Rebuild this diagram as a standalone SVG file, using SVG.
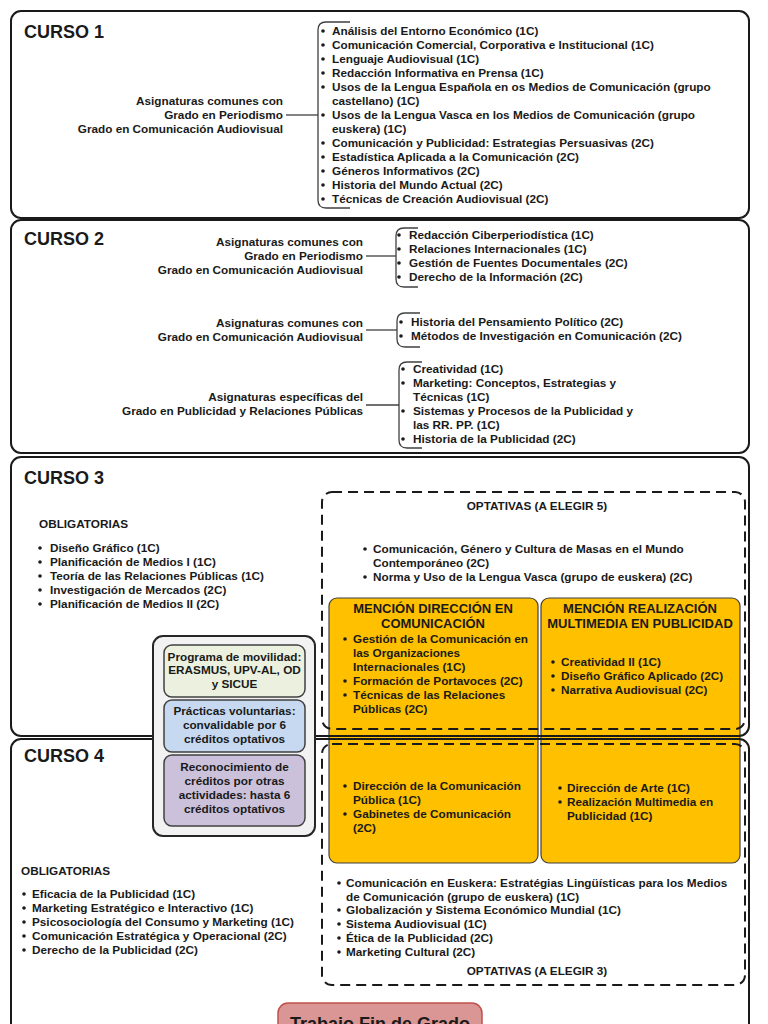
<svg xmlns="http://www.w3.org/2000/svg" width="768" height="1024" viewBox="0 0 768 1024">
<style>
.t{font-family:"Liberation Sans",Arial,sans-serif;font-weight:bold;font-size:11.75px;fill:#1a1a1a}
.h{font-size:18px}
.m{font-size:13px}
.e{text-anchor:end}
.c{text-anchor:middle}
.box{fill:none;stroke:#1a1a1a;stroke-width:2}
.dash{fill:none;stroke:#1a1a1a;stroke-width:2;stroke-dasharray:10 6}
.br{fill:none;stroke:#404040;stroke-width:1.3}
.men{fill:#FFC000;stroke:#404040;stroke-width:1.2}
.b{fill:#1a1a1a}
</style>
<rect width="768" height="1024" fill="#fff"/>

<g id="menciones">
<rect class="men" x="329" y="598" width="209" height="265" rx="8"/>
<rect class="men" x="541" y="598" width="199" height="265" rx="8"/>
</g>

<g id="curso1">
<rect class="box" x="11" y="11" width="738" height="207" rx="10"/>
<text class="t h" x="24" y="38">CURSO 1</text>
<text class="t e" x="283" y="105">Asignaturas comunes con</text>
<text class="t e" x="283" y="119">Grado en Periodismo</text>
<text class="t e" x="283" y="133">Grado en Comunicación Audiovisual</text>
<g id="c1list">
<circle class="b" cx="323" cy="31" r="1.8"/><text class="t" x="332" y="35">Análisis del Entorno Económico (1C)</text>
<circle class="b" cx="323" cy="45" r="1.8"/><text class="t" x="332" y="49">Comunicación Comercial, Corporativa e Institucional (1C)</text>
<circle class="b" cx="323" cy="59" r="1.8"/><text class="t" x="332" y="63">Lenguaje Audiovisual (1C)</text>
<circle class="b" cx="323" cy="73" r="1.8"/><text class="t" x="332" y="77">Redacción Informativa en Prensa (1C)</text>
<circle class="b" cx="323" cy="87" r="1.8"/><text class="t" x="332" y="91">Usos de la Lengua Española en os Medios de Comunicación (grupo</text>
<text class="t" x="332" y="105">castellano) (1C)</text>
<circle class="b" cx="323" cy="115" r="1.8"/><text class="t" x="332" y="119">Usos de la Lengua Vasca en los Medios de Comunicación (grupo</text>
<text class="t" x="332" y="133">euskera) (1C)</text>
<circle class="b" cx="323" cy="143" r="1.8"/><text class="t" x="332" y="147">Comunicación y Publicidad: Estrategias Persuasivas (2C)</text>
<circle class="b" cx="323" cy="157" r="1.8"/><text class="t" x="332" y="161">Estadística Aplicada a la Comunicación (2C)</text>
<circle class="b" cx="323" cy="171" r="1.8"/><text class="t" x="332" y="175">Géneros Informativos (2C)</text>
<circle class="b" cx="323" cy="185" r="1.8"/><text class="t" x="332" y="189">Historia del Mundo Actual (2C)</text>
<circle class="b" cx="323" cy="199" r="1.8"/><text class="t" x="332" y="203">Técnicas de Creación Audiovisual (2C)</text>
</g>
</g>

<g id="curso2">
<rect class="box" x="11" y="220" width="738" height="233" rx="10"/>
<text class="t h" x="24" y="245">CURSO 2</text>
<text class="t e" x="363" y="246">Asignaturas comunes con</text>
<text class="t e" x="363" y="260">Grado en Periodismo</text>
<text class="t e" x="363" y="274">Grado en Comunicación Audiovisual</text>
<text class="t e" x="363" y="327">Asignaturas comunes con</text>
<text class="t e" x="363" y="341">Grado en Comunicación Audiovisual</text>
<text class="t e" x="363" y="401">Asignaturas específicas del</text>
<text class="t e" x="363" y="415">Grado en Publicidad y Relaciones Públicas</text>
<g id="c2list1">
<circle class="b" cx="399" cy="235" r="1.8"/><text class="t" x="409" y="239">Redacción Ciberperiodística (1C)</text>
<circle class="b" cx="399" cy="249" r="1.8"/><text class="t" x="409" y="253">Relaciones Internacionales (1C)</text>
<circle class="b" cx="399" cy="263" r="1.8"/><text class="t" x="409" y="267">Gestión de Fuentes Documentales (2C)</text>
<circle class="b" cx="399" cy="277" r="1.8"/><text class="t" x="409" y="281">Derecho de la Información (2C)</text>
</g>
<g id="c2list2">
<circle class="b" cx="401" cy="322" r="1.8"/><text class="t" x="411" y="326">Historia del Pensamiento Político (2C)</text>
<circle class="b" cx="401" cy="336" r="1.8"/><text class="t" x="411" y="340">Métodos de Investigación en Comunicación (2C)</text>
</g>
<g id="c2list3">
<circle class="b" cx="403" cy="369" r="1.8"/><text class="t" x="413" y="373">Creatividad (1C)</text>
<circle class="b" cx="403" cy="383" r="1.8"/><text class="t" x="413" y="387">Marketing: Conceptos, Estrategias y</text>
<text class="t" x="413" y="401">Técnicas (1C)</text>
<circle class="b" cx="403" cy="411" r="1.8"/><text class="t" x="413" y="415">Sistemas y Procesos de la Publicidad y</text>
<text class="t" x="413" y="429">las RR. PP. (1C)</text>
<circle class="b" cx="403" cy="439" r="1.8"/><text class="t" x="413" y="443">Historia de la Publicidad (2C)</text>
</g>
</g>

<g id="curso3">
<rect class="box" x="11" y="457" width="738" height="279" rx="10"/>
<text class="t h" x="24" y="484">CURSO 3</text>
<text class="t" x="39" y="528">OBLIGATORIAS</text>
<circle class="b" cx="40" cy="548" r="1.8"/><text class="t" x="50" y="552">Diseño Gráfico (1C)</text>
<circle class="b" cx="40" cy="562" r="1.8"/><text class="t" x="50" y="566">Planificación de Medios I (1C)</text>
<circle class="b" cx="40" cy="576" r="1.8"/><text class="t" x="50" y="580">Teoría de las Relaciones Públicas (1C)</text>
<circle class="b" cx="40" cy="590" r="1.8"/><text class="t" x="50" y="594">Investigación de Mercados (2C)</text>
<circle class="b" cx="40" cy="604" r="1.8"/><text class="t" x="50" y="608">Planificación de Medios II (2C)</text>
</g>

<g id="optativas3">
<rect class="dash" x="322" y="492" width="423" height="237" rx="10"/>
<text class="t c" x="537" y="510">OPTATIVAS (A ELEGIR 5)</text>
<circle class="b" cx="365" cy="549" r="1.8"/><text class="t" x="373" y="553">Comunicación, Género y Cultura de Masas en el Mundo</text>
<text class="t" x="373" y="567">Contemporáneo (2C)</text>
<circle class="b" cx="365" cy="577" r="1.8"/><text class="t" x="373" y="581">Norma y Uso de la Lengua Vasca (grupo de euskera) (2C)</text>
</g>

<g id="mencion-direccion">
<text class="t m c" x="433" y="613">MENCIÓN DIRECCIÓN EN</text>
<text class="t m c" x="433" y="628">COMUNICACIÓN</text>
<circle class="b" cx="345" cy="639" r="1.8"/><text class="t" x="353" y="643">Gestión de la Comunicación en</text>
<text class="t" x="353" y="657">las Organizaciones</text>
<text class="t" x="353" y="671">Internacionales (1C)</text>
<circle class="b" cx="345" cy="681" r="1.8"/><text class="t" x="353" y="685">Formación de Portavoces (2C)</text>
<circle class="b" cx="345" cy="695" r="1.8"/><text class="t" x="353" y="699">Técnicas de las Relaciones</text>
<text class="t" x="353" y="713">Públicas (2C)</text>
<circle class="b" cx="345" cy="786" r="1.8"/><text class="t" x="353" y="790">Dirección de la Comunicación</text>
<text class="t" x="353" y="804">Pública (1C)</text>
<circle class="b" cx="345" cy="814" r="1.8"/><text class="t" x="353" y="818">Gabinetes de Comunicación</text>
<text class="t" x="353" y="832">(2C)</text>
</g>

<g id="mencion-realizacion">
<text class="t m c" x="640" y="613">MENCIÓN REALIZACIÓN</text>
<text class="t m c" x="640" y="628">MULTIMEDIA EN PUBLICIDAD</text>
<circle class="b" cx="553" cy="662" r="1.8"/><text class="t" x="561" y="666">Creatividad II (1C)</text>
<circle class="b" cx="553" cy="676" r="1.8"/><text class="t" x="561" y="680">Diseño Gráfico Aplicado (2C)</text>
<circle class="b" cx="553" cy="690" r="1.8"/><text class="t" x="561" y="694">Narrativa Audiovisual (2C)</text>
<circle class="b" cx="560" cy="788" r="1.8"/><text class="t" x="567" y="792">Dirección de Arte (1C)</text>
<circle class="b" cx="560" cy="802" r="1.8"/><text class="t" x="567" y="806">Realización Multimedia en</text>
<text class="t" x="567" y="820">Publicidad (1C)</text>
</g>

<g id="curso4">
<rect class="box" x="11" y="739" width="738" height="300" rx="10"/>
<text class="t h" x="24" y="762">CURSO 4</text>
<text class="t" x="21" y="875">OBLIGATORIAS</text>
<circle class="b" cx="24" cy="894" r="1.8"/><text class="t" x="32" y="898">Eficacia de la Publicidad (1C)</text>
<circle class="b" cx="24" cy="908" r="1.8"/><text class="t" x="32" y="912">Marketing Estratégico e Interactivo (1C)</text>
<circle class="b" cx="24" cy="922" r="1.8"/><text class="t" x="32" y="926">Psicosociología del Consumo y Marketing (1C)</text>
<circle class="b" cx="24" cy="936" r="1.8"/><text class="t" x="32" y="940">Comunicación Estratégica y Operacional (2C)</text>
<circle class="b" cx="24" cy="950" r="1.8"/><text class="t" x="32" y="954">Derecho de la Publicidad (2C)</text>
</g>

<g id="optativas4">
<rect class="dash" x="322" y="744" width="423" height="241" rx="10"/>
<circle class="b" cx="339" cy="883" r="1.8"/><text class="t" x="346" y="887">Comunicación en Euskera: Estratégias Lingüísticas para los Medios</text>
<text class="t" x="346" y="901">de Comunicación (grupo de euskera) (1C)</text>
<circle class="b" cx="339" cy="910" r="1.8"/><text class="t" x="346" y="914">Globalización y Sistema Económico Mundial (1C)</text>
<circle class="b" cx="339" cy="924" r="1.8"/><text class="t" x="346" y="928">Sistema Audiovisual (1C)</text>
<circle class="b" cx="339" cy="938" r="1.8"/><text class="t" x="346" y="942">Ética de la Publicidad (2C)</text>
<circle class="b" cx="339" cy="952" r="1.8"/><text class="t" x="346" y="956">Marketing Cultural (2C)</text>
<text class="t c" x="537" y="975">OPTATIVAS (A ELEGIR 3)</text>
</g>

<g id="connectors">
<line class="br" x1="286" y1="115" x2="318" y2="115"/>
<path class="br" d="M350 22 H326 Q318 22 318 30 V200 Q318 208 326 208 H350"/>
<line class="br" x1="366" y1="256" x2="396" y2="256"/>
<path class="br" d="M418 228 H404 Q396 228 396 236 V279 Q396 287 404 287 H418"/>
<line class="br" x1="366" y1="330" x2="397" y2="330"/>
<path class="br" d="M420 313 H405 Q397 313 397 321 V339 Q397 347 405 347 H420"/>
<line class="br" x1="366" y1="405" x2="399" y2="405"/>
<path class="br" d="M422 362 H407 Q399 362 399 370 V440 Q399 448 407 448 H422"/>
</g>

<g id="movilidad">
<rect x="153" y="636" width="162" height="200" rx="10" fill="#F2F2F2" stroke="#262626" stroke-width="2"/>
<rect x="164" y="645" width="141" height="52" rx="8" fill="#EBF1DE" stroke="#404040" stroke-width="1.5"/>
<text class="t c" x="234.5" y="661">Programa de movilidad:</text>
<text class="t c" x="234.5" y="674">ERASMUS, UPV-AL, OD</text>
<text class="t c" x="234.5" y="688">y SICUE</text>
<rect x="164" y="700" width="141" height="52" rx="8" fill="#C6D9F1" stroke="#404040" stroke-width="1.5"/>
<text class="t c" x="234.5" y="715">Prácticas voluntarias:</text>
<text class="t c" x="234.5" y="729">convalidable por 6</text>
<text class="t c" x="234.5" y="743">créditos optativos</text>
<rect x="164" y="755" width="141" height="71" rx="8" fill="#CCC1DA" stroke="#404040" stroke-width="1.5"/>
<text class="t c" x="234.5" y="771">Reconocimiento de</text>
<text class="t c" x="234.5" y="785">créditos por otras</text>
<text class="t c" x="234.5" y="799">actividades: hasta 6</text>
<text class="t c" x="234.5" y="813">créditos optativos</text>
</g>

<g id="tfg">
<rect x="278" y="1003" width="204" height="45" rx="10" fill="#DA9694" stroke="#C0504D" stroke-width="1.5"/>
<text class="t h c" x="380" y="1030">Trabajo Fin de Grado</text>
</g>
</svg>
